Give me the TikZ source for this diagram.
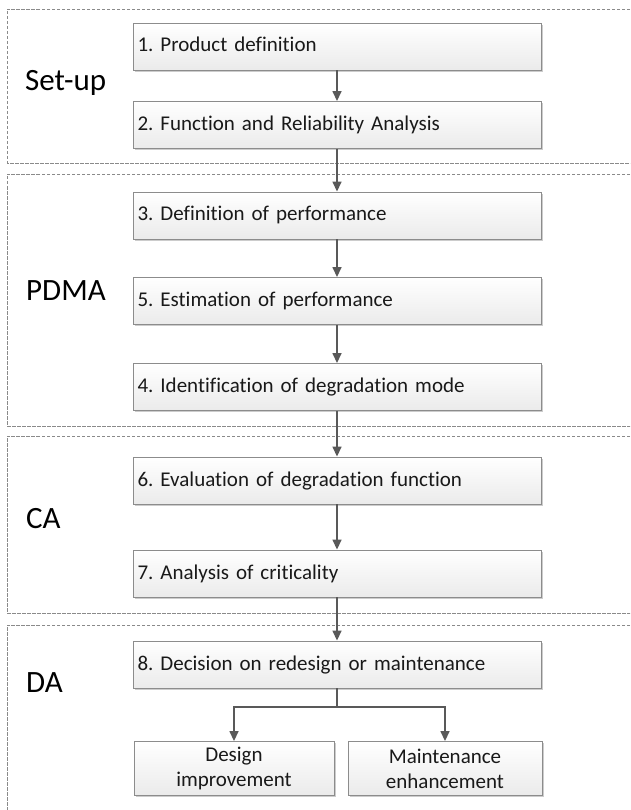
\documentclass[tikz,border=0pt]{standalone}
\usepackage{fontspec}
\setmainfont{Carlito}[Ligatures=CommonOff]
\frenchspacing
\usetikzlibrary{arrows.meta,shadows}
\definecolor{framegray}{HTML}{8C8C8C}
\definecolor{linkgray}{HTML}{595959}
\definecolor{zonegray}{HTML}{8A8A8A}
\begin{document}
\begin{tikzpicture}[x=1pt,y=-1pt,
  stepbox/.style={rectangle, draw=framegray, line width=0.9pt,
    top color=white, bottom color=black!8,
    drop shadow={shadow xshift=1.6pt,shadow yshift=-1.6pt,fill=black!20,opacity=1},
    font=\fontsize{21}{25}\selectfont, text=black!90},
  mainbox/.style={stepbox, text width=399pt, inner xsep=4.5pt, inner ysep=0pt,
    align=left, minimum height=47pt, text height=15pt, text depth=4pt},
  leafbox/.style={stepbox, align=center, minimum height=54pt, inner sep=0pt},
  zone/.style={draw=zonegray, line width=0.8pt, dash pattern=on 3.5pt off 1.5pt},
  phase/.style={anchor=base west, inner sep=0pt, font=\fontsize{31}{36}\selectfont},
  linkline/.style={draw=linkgray, line width=1.5pt},
  link/.style={linkline, -{Triangle[length=10pt,width=9pt]}}]

\useasboundingbox (0,0) rectangle (630,810);
\clip (0,0) rectangle (630,810);

% dashed phase zones (open to the right)
\draw[zone] (640,9) -- (7,9) -- (7,163) -- (640,163);
\draw[zone] (640,174) -- (7,174) -- (7,426) -- (640,426);
\draw[zone] (640,436) -- (7,436) -- (7,613) -- (640,613);
\draw[zone] (640,625) -- (7,625) -- (7,830);

% phase labels
\node[phase] (setup) at (25,91) {Set-up};
\node[phase] (pdma) at (26,300) {PDMA};
\node[phase] (ca) at (26,528) {CA};
\node[phase] (da) at (26,692) {DA};

% steps
\node[mainbox] (s1) at (337,46.5) {1. Product definition};
\node[mainbox] (s2) at (337,125) {2. Function and Reliability Analysis};
\node[mainbox] (s3) at (337,215.5) {3. Definition of performance};
\node[mainbox] (s5) at (337,301) {5. Estimation of performance};
\node[mainbox] (s4) at (337,387) {4. Identification of degradation mode};
\node[mainbox] (s6) at (337,480.5) {6. Evaluation of degradation function};
\node[mainbox] (s7) at (337,573.5) {7. Analysis of criticality};
\node[mainbox] (s8) at (337,664.5) {8. Decision on redesign or maintenance};
\node[leafbox, minimum width=200pt] (d1) at (234,768.5) {Design\\improvement};
\node[leafbox, minimum width=194pt] (d2) at (445,768.5) {Maintenance\\enhancement};

% connectors
\draw[link] (s1) -- (s2);
\draw[link] (s2) -- (s3);
\draw[link] (s3) -- (s5);
\draw[link] (s5) -- (s4);
\draw[link] (s4) -- (s6);
\draw[link] (s6) -- (s7);
\draw[link] (s7) -- (s8);
\coordinate (split) at (337,707);
\draw[linkline] (s8) -- (split);
\draw[link] (split) -| (d1);
\draw[link] (split) -| (d2);
\end{tikzpicture}
\end{document}
